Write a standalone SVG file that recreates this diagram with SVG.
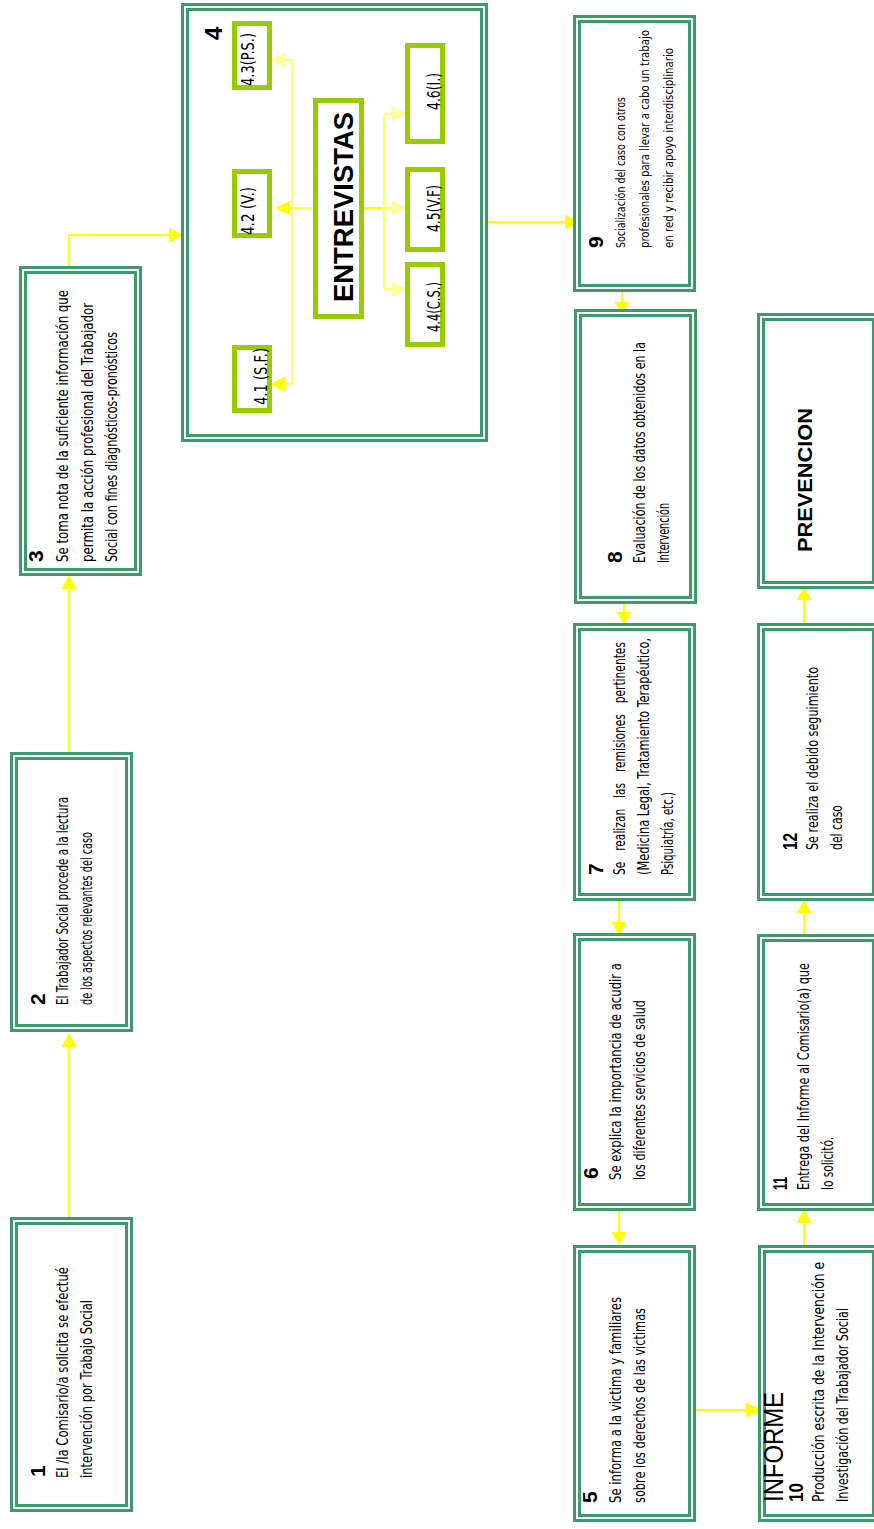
<svg xmlns="http://www.w3.org/2000/svg" width="874" height="1529" viewBox="0 0 874 1529">
<style>
.bg{fill:#fff}
.o{fill:#fff;stroke:#3c9a6c;stroke-width:3}
.i{fill:none;stroke:#3c9a6c;stroke-width:3}
.sub{fill:#fff;stroke:#99cc00;stroke-width:5}
.t{font-family:"Liberation Sans Narrow","DejaVu Sans Condensed","Liberation Sans",sans-serif;font-size:16px;fill:#000}
.t9{font-family:"Liberation Sans Narrow","DejaVu Sans Condensed","Liberation Sans",sans-serif;font-size:13px;fill:#000}
.n{font-family:"Liberation Sans",sans-serif;font-size:21px;font-weight:bold;fill:#000}
.s{font-family:"Liberation Sans Narrow","DejaVu Sans Condensed","Liberation Sans",sans-serif;font-size:17px;fill:#000}
.h{font-family:"Liberation Sans",Arial,sans-serif;font-weight:bold;fill:#000}
.c{stroke:#ffff00;stroke-width:2;fill:none}
.cp{stroke:#ffff66;stroke-width:2;fill:none}
.a{fill:#ffff00}
.ap{fill:#ffff99}
</style>
<rect class="bg" x="0" y="0" width="874" height="1529"/>

<g id="connectors">
<line class="c" x1="69" y1="1217" x2="69" y2="1046"/><polygon class="a" points="69,1033 61.5,1047 76.5,1047"/>
<line class="c" x1="69" y1="752" x2="69" y2="588"/><polygon class="a" points="69,575 61.5,589 76.5,589"/>
<polyline class="c" points="69,266 69,235 170,235"/><polygon class="a" points="183,235 169,227.5 169,242.5"/>
<line class="c" x1="488" y1="222" x2="566" y2="222"/><polygon class="a" points="579,222 565,214.5 565,229.5"/>
<line class="c" x1="622" y1="292" x2="622" y2="303"/><polygon class="a" points="622,314 614.5,302 629.5,302"/>
<line class="c" x1="624" y1="604" x2="624" y2="613"/><polygon class="a" points="624,625 616.5,612 631.5,612"/>
<line class="c" x1="619" y1="901" x2="619" y2="923"/><polygon class="a" points="619,935 611.5,922 626.5,922"/>
<line class="c" x1="619" y1="1211" x2="619" y2="1233"/><polygon class="a" points="619,1245 611.5,1232 626.5,1232"/>
<line class="c" x1="696" y1="1410" x2="747" y2="1410"/><polygon class="a" points="762,1410 746,1402.5 746,1417.5"/>
<line class="c" x1="804" y1="1245" x2="804" y2="1222"/><polygon class="a" points="804,1209 796.5,1223 811.5,1223"/>
<line class="c" x1="804" y1="934" x2="804" y2="912"/><polygon class="a" points="804,900 796.5,913 811.5,913"/>
<line class="c" x1="804" y1="623" x2="804" y2="599"/><polygon class="a" points="804,587 796.5,600 811.5,600"/>
</g>

<g id="n1">
<rect class="o" x="11.5" y="1218.5" width="120" height="292"/><rect class="i" x="16.5" y="1223.5" width="110" height="282"/>
<text class="n" transform="translate(45,1477) rotate(-90)">1</text>
<text class="t" transform="translate(68,1478) rotate(-90)" textLength="211" lengthAdjust="spacingAndGlyphs">El /la Comisario/a solicita se efectué</text>
<text class="t" transform="translate(92,1478) rotate(-90)" textLength="178" lengthAdjust="spacingAndGlyphs">intervención por Trabajo Social</text>
</g>

<g id="n2">
<rect class="o" x="11.5" y="753.5" width="120" height="277"/><rect class="i" x="16.5" y="758.5" width="110" height="267"/>
<text class="n" transform="translate(45,1005) rotate(-90)">2</text>
<text class="t" transform="translate(68,1005) rotate(-90)" textLength="208" lengthAdjust="spacingAndGlyphs">El Trabajador Social procede a la lectura</text>
<text class="t" transform="translate(92,1005) rotate(-90)" textLength="173" lengthAdjust="spacingAndGlyphs">de los aspectos relevantes del caso</text>
</g>

<g id="n3">
<rect class="o" x="20.5" y="267.5" width="120" height="307"/><rect class="i" x="25.5" y="272.5" width="110" height="297"/>
<text class="n" transform="translate(43,562) rotate(-90)">3</text>
<text class="t" transform="translate(68,562) rotate(-90)" textLength="272" lengthAdjust="spacingAndGlyphs">Se toma nota de la suficiente información que</text>
<text class="t" transform="translate(93,562) rotate(-90)" textLength="259" lengthAdjust="spacingAndGlyphs">permita la acción profesional del Trabajador</text>
<text class="t" transform="translate(117,562) rotate(-90)" textLength="230" lengthAdjust="spacingAndGlyphs">Social con fines diagnósticos-pronósticos</text>
</g>

<g id="n4">
<rect class="o" x="182.5" y="4.5" width="304" height="436"/><rect class="i" x="187.5" y="9.5" width="294" height="426"/>
<text class="h" font-size="24" transform="translate(222,40) rotate(-90)">4</text>
<g id="n4-connectors">
<polyline class="cp" points="313,208 292,208"/>
<line class="cp" x1="292" y1="60" x2="292" y2="384"/>
<line class="cp" x1="292" y1="60" x2="284" y2="60"/><polygon class="ap" points="270,60 285,52.5 285,67.5"/>
<line class="c" x1="292" y1="208" x2="289" y2="208"/><polygon class="a" points="275,208 290,200.5 290,215.5"/>
<line class="cp" x1="292" y1="384" x2="284" y2="384"/><polygon class="a" points="270,384 285,376.5 285,391.5"/>
<polyline class="c" points="364,208 384,208"/>
<line class="cp" x1="384" y1="114" x2="384" y2="289"/>
<line class="cp" x1="384" y1="114" x2="393" y2="114"/><polygon class="ap" points="407,114 392,106.5 392,121.5"/>
<line class="cp" x1="384" y1="208" x2="393" y2="208"/><polygon class="ap" points="407,208 392,200.5 392,215.5"/>
<line class="cp" x1="384" y1="289" x2="393" y2="289"/><polygon class="ap" points="407,289 392,281.5 392,296.5"/>
</g>
<g id="n4-entrevistas">
<rect class="sub" x="315.5" y="100.5" width="46" height="216"/>
<text class="h" font-size="28" text-anchor="middle" transform="translate(353,207) rotate(-90)" textLength="190" lengthAdjust="spacingAndGlyphs">ENTREVISTAS</text>
</g>
<g id="n4-3"><rect class="sub" x="234.5" y="23.5" width="35" height="64"/>
<text class="s" transform="translate(254,86) rotate(-90)" textLength="53" lengthAdjust="spacingAndGlyphs">4.3(P.S.)</text></g>
<g id="n4-2"><rect class="sub" x="234.5" y="171.5" width="35" height="64"/>
<text class="s" transform="translate(254,235) rotate(-90)" textLength="48" lengthAdjust="spacingAndGlyphs">4.2 (V.)</text></g>
<g id="n4-1"><rect class="sub" x="234.5" y="347.5" width="35" height="63"/>
<text class="s" transform="translate(267,405) rotate(-90)" textLength="57" lengthAdjust="spacingAndGlyphs">4.1 (S.F.)</text></g>
<g id="n4-6"><rect class="sub" x="407.5" y="45.5" width="35" height="96"/>
<text class="s" transform="translate(440,110) rotate(-90)" textLength="37" lengthAdjust="spacingAndGlyphs">4.6(I.)</text></g>
<g id="n4-5"><rect class="sub" x="407.5" y="169.5" width="35" height="80"/>
<text class="s" transform="translate(440,232) rotate(-90)" textLength="47" lengthAdjust="spacingAndGlyphs">4.5(V.F)</text></g>
<g id="n4-4"><rect class="sub" x="407.5" y="264.5" width="35" height="80"/>
<text class="s" transform="translate(440,332) rotate(-90)" textLength="50" lengthAdjust="spacingAndGlyphs">4.4(C.S.)</text></g>
</g>

<g id="n9">
<rect class="o" x="574.5" y="16.5" width="120" height="274"/><rect class="i" x="579.5" y="21.5" width="110" height="264"/>
<text class="n" transform="translate(603,248) rotate(-90)">9</text>
<text class="t9" transform="translate(625,248) rotate(-90)" textLength="151" lengthAdjust="spacingAndGlyphs">Socialización del caso con otros</text>
<text class="t9" style="font-size:12.5px" transform="translate(649,248) rotate(-90)" textLength="218" lengthAdjust="spacingAndGlyphs">profesionales para llevar a cabo un trabajo</text>
<text class="t9" transform="translate(673,248) rotate(-90)" textLength="200" lengthAdjust="spacingAndGlyphs">en red y recibir apoyo interdisciplinario</text>
</g>

<g id="n8">
<rect class="o" x="575.5" y="310.5" width="120" height="292"/><rect class="i" x="580.5" y="315.5" width="110" height="282"/>
<text class="n" transform="translate(622,563) rotate(-90)">8</text>
<text class="t" transform="translate(645,563) rotate(-90)" textLength="221" lengthAdjust="spacingAndGlyphs">Evaluación de los datos obtenidos en la</text>
<text class="t" transform="translate(669,563) rotate(-90)" textLength="60" lengthAdjust="spacingAndGlyphs">Intervención</text>
</g>

<g id="n7">
<rect class="o" x="574.5" y="624.5" width="120" height="275"/><rect class="i" x="579.5" y="629.5" width="110" height="265"/>
<text class="n" transform="translate(603,875) rotate(-90)">7</text>
<text class="t" transform="translate(625,875) rotate(-90)" word-spacing="10" textLength="233" lengthAdjust="spacingAndGlyphs">Se realizan las remisiones pertinentes</text>
<text class="t" transform="translate(649,875) rotate(-90)" textLength="237" lengthAdjust="spacingAndGlyphs">(Medicina Legal, Tratamiento Terapéutico,</text>
<text class="t" transform="translate(673,875) rotate(-90)" textLength="83" lengthAdjust="spacingAndGlyphs">Psiquiatría, etc.)</text>
</g>

<g id="n6">
<rect class="o" x="574.5" y="934.5" width="120" height="275"/><rect class="i" x="579.5" y="939.5" width="110" height="265"/>
<text class="n" transform="translate(598,1179) rotate(-90)">6</text>
<text class="t" transform="translate(621,1180) rotate(-90)" textLength="217" lengthAdjust="spacingAndGlyphs">Se explica la importancia de acudir a</text>
<text class="t" transform="translate(645,1180) rotate(-90)" textLength="180" lengthAdjust="spacingAndGlyphs">los diferentes servicios de salud</text>
</g>

<g id="n5">
<rect class="o" x="574.5" y="1246.5" width="120" height="274"/><rect class="i" x="579.5" y="1251.5" width="110" height="264"/>
<text class="n" transform="translate(597,1503) rotate(-90)">5</text>
<text class="t" transform="translate(621,1503) rotate(-90)" textLength="206" lengthAdjust="spacingAndGlyphs">Se informa a la victima y familiares</text>
<text class="t" transform="translate(645,1503) rotate(-90)" textLength="195" lengthAdjust="spacingAndGlyphs">sobre los derechos de las victimas</text>
</g>

<g id="n10">
<rect class="o" x="759.5" y="1246.5" width="119" height="274"/><rect class="i" x="764.5" y="1251.5" width="109" height="264"/>
<text class="h" font-size="27" style="font-weight:normal" transform="translate(783,1502) rotate(-90)" textLength="110" lengthAdjust="spacingAndGlyphs">INFORME</text>
<text class="n" transform="translate(803,1502) rotate(-90)" textLength="19" lengthAdjust="spacingAndGlyphs">10</text>
<text class="t" transform="translate(824,1502) rotate(-90)" textLength="240" lengthAdjust="spacingAndGlyphs">Producción escrita de la Intervención e</text>
<text class="t" transform="translate(848,1502) rotate(-90)" textLength="194" lengthAdjust="spacingAndGlyphs">Investigación del Trabajador Social</text>
</g>

<g id="n11">
<rect class="o" x="758.5" y="935.5" width="120" height="274"/><rect class="i" x="763.5" y="940.5" width="110" height="264"/>
<text class="n" transform="translate(787,1190) rotate(-90)" textLength="13" lengthAdjust="spacingAndGlyphs">11</text>
<text class="t" transform="translate(809,1190) rotate(-90)" textLength="227" lengthAdjust="spacingAndGlyphs">Entrega del Informe al Comisario(a) que</text>
<text class="t" transform="translate(833,1190) rotate(-90)" textLength="53" lengthAdjust="spacingAndGlyphs">lo solicitó.</text>
</g>

<g id="n12">
<rect class="o" x="758.5" y="624.5" width="120" height="275"/><rect class="i" x="763.5" y="629.5" width="110" height="265"/>
<text class="n" transform="translate(797,850) rotate(-90)" textLength="17" lengthAdjust="spacingAndGlyphs">12</text>
<text class="t" transform="translate(818,850) rotate(-90)" textLength="183" lengthAdjust="spacingAndGlyphs">Se realiza el debido seguimiento</text>
<text class="t" transform="translate(842,850) rotate(-90)" textLength="45" lengthAdjust="spacingAndGlyphs">del caso</text>
</g>

<g id="prevencion">
<rect class="o" x="758.5" y="314.5" width="120" height="273"/><rect class="i" x="763.5" y="319.5" width="110" height="263"/>
<text class="h" font-size="21" text-anchor="middle" transform="translate(812,480) rotate(-90)" textLength="144" lengthAdjust="spacingAndGlyphs">PREVENCION</text>
</g>
</svg>
